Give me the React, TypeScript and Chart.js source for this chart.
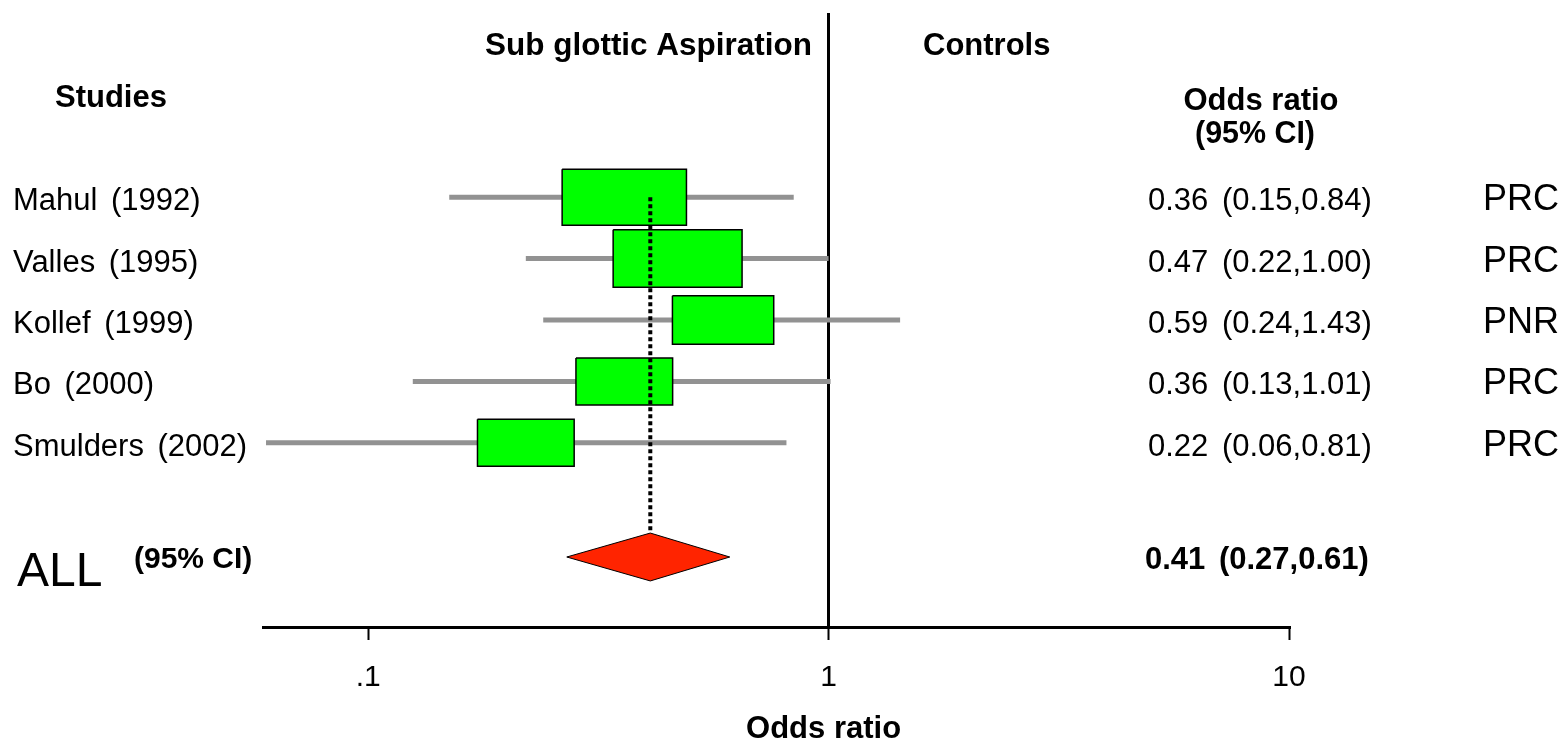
import React, { useEffect, useRef } from 'react';
import { Chart, registerables } from 'chart.js';

Chart.register(...registerables);

// ---- data ----
const studies = ['Mahul (1992)', 'Valles (1995)', 'Kollef (1999)', 'Bo (2000)', 'Smulders (2002)'];
const oddsRatios = [0.36, 0.47, 0.59, 0.36, 0.22];
const ciLower = [0.15, 0.22, 0.24, 0.125, 0.06];
const ciUpper = [0.84, 1.0, 1.43, 1.01, 0.81];
const weights = [27, 28, 22, 21, 21];
const designs = ['PRC', 'PRC', 'PNR', 'PRC', 'PRC'];
const pooledLabel = 'ALL';
const pooledOR = 0.41;
const pooledLower = 0.27;
const pooledUpper = 0.61;
const xTickValues = [0.1, 1, 10];
const xTickLabels = ['.1', '1', '10'];
const xAxisTitle = 'Odds ratio';

const FONT = '"Liberation Sans", Arial, Helvetica, sans-serif';
const fmt = (v: number) => v.toFixed(2);
const pooledRow = studies.length + 0.86;
const diamondHalf = 0.39;

const textPlugin = {
  id: 'forestText',
  afterDraw(chart: any) {
    const ctx = chart.ctx as CanvasRenderingContext2D;
    const ys = chart.scales.y;
    const xs = chart.scales.x;
    ctx.save();
    ctx.fillStyle = '#000';
    ctx.textBaseline = 'alphabetic';
    ctx.textAlign = 'left';
    // headers
    ctx.font = `bold 32px ${FONT}`;
    ctx.fillText('Sub glottic Aspiration', 485, 55, 327);
    ctx.font = `bold 31px ${FONT}`;
    ctx.fillText('Controls', 923, 55, 130);
    ctx.fillText('Studies', 55, 107, 113);
    ctx.textAlign = 'center';
    ctx.fillText('Odds ratio', 1261, 110, 158);
    ctx.fillText('(95% CI)', 1255, 143, 120);
    // x axis title, centred under OR = 1
    ctx.fillText(xAxisTitle, xs.getPixelForValue(1) - 5, 738, 158);
    ctx.textAlign = 'left';

    (ctx as any).wordSpacing = '5px';
    studies.forEach((name, i) => {
      const base = ys.getPixelForValue(i) + 13;
      ctx.font = `31px ${FONT}`;
      ctx.fillText(name, 13, base);
      ctx.fillText(`${fmt(oddsRatios[i])} (${fmt(ciLower[i])},${fmt(ciUpper[i])})`, 1148, base);
      ctx.font = `36px ${FONT}`;
      ctx.fillText(designs[i], 1483, base);
    });
    const pb = ys.getPixelForValue(pooledRow);
    ctx.font = `bold 31px ${FONT}`;
    ctx.fillText(`${fmt(pooledOR)} (${fmt(pooledLower)},${fmt(pooledUpper)})`, 1145, pb + 12);
    (ctx as any).wordSpacing = '0px';
    ctx.font = `48px ${FONT}`;
    ctx.fillText(pooledLabel, 17, pb + 29);
    ctx.font = `bold 30px ${FONT}`;
    ctx.fillText('(95% CI)', 134, pb + 11, 123);
    ctx.restore();
  },
};

function buildDatasets() {
  const ds: any[] = [];
  // CI lines
  studies.forEach((_, i) => {
    ds.push({
      data: [{ x: ciLower[i], y: i }, { x: ciUpper[i], y: i }],
      borderColor: '#929292',
      borderWidth: 5,
      pointRadius: 0,
      borderCapStyle: 'butt',
      fill: false,
      order: 3,
      clip: false,
    });
  });
  // weighted boxes
  studies.forEach((_, i) => {
    const halfLog = weights[i] / 200;
    const lo = oddsRatios[i] * Math.pow(10, -halfLog);
    const hi = oddsRatios[i] * Math.pow(10, halfLog);
    const hh = (0.765 + (weights[i] - 21) * 0.0245) / 2;
    ds.push({
      data: [
        { x: lo, y: i - hh },
        { x: hi, y: i - hh },
        { x: hi, y: i + hh },
        { x: lo, y: i + hh },
        { x: lo, y: i - hh },
      ],
      borderColor: '#000',
      borderWidth: 1.5,
      borderJoinStyle: 'miter',
      backgroundColor: '#00FF00',
      fill: 'shape',
      pointRadius: 0,
      order: 2,
      clip: false,
    });
  });
  // pooled diamond
  ds.push({
    data: [
      { x: pooledLower, y: pooledRow },
      { x: pooledOR, y: pooledRow - diamondHalf },
      { x: pooledUpper, y: pooledRow },
      { x: pooledOR, y: pooledRow + diamondHalf },
      { x: pooledLower, y: pooledRow },
    ],
    borderColor: '#000',
    borderWidth: 1,
    backgroundColor: '#FF2400',
    fill: 'shape',
    pointRadius: 0,
    order: 1,
    clip: false,
  });
  // pooled estimate dotted line
  ds.push({
    data: [{ x: pooledOR, y: 0 }, { x: pooledOR, y: pooledRow - diamondHalf }],
    borderColor: '#000',
    borderWidth: 4,
    borderDash: [4, 3],
    pointRadius: 0,
    fill: false,
    order: 0,
    clip: false,
  });
  return ds;
}

export default function App() {
  const ref = useRef<HTMLCanvasElement | null>(null);
  useEffect(() => {
    document.body.style.margin = '0';
    const canvas = ref.current;
    if (!canvas) return;
    const chart = new Chart(canvas, {
      type: 'line',
      data: { datasets: buildDatasets() },
      options: {
        animation: false,
        responsive: false,
        devicePixelRatio: 1,
        layout: { padding: { left: 263, right: 276, top: 13, bottom: 0 } },
        plugins: { legend: { display: false }, tooltip: { enabled: false } },
        elements: { line: { tension: 0 } },
        scales: {
          x: {
            type: 'logarithmic',
            position: 'bottom',
            min: 0.0591,
            max: 10,
            afterBuildTicks: (scale: any) => {
              scale.ticks = xTickValues.map((v) => ({ value: v }));
            },
            afterFit: (scale: any) => {
              scale.height = 113;
            },
            ticks: {
              autoSkip: false,
              maxRotation: 0,
              padding: 20,
              color: '#000',
              font: { family: FONT, size: 30 },
              callback: (v: any) => {
                const idx = xTickValues.indexOf(Number(v));
                return idx >= 0 ? xTickLabels[idx] : '';
              },
            },
            grid: {
              drawOnChartArea: true,
              drawTicks: true,
              tickLength: 13,
              tickWidth: 2,
              tickColor: '#000',
              lineWidth: 3,
              color: (c: any) => (c.tick && c.tick.value === 1 ? '#000' : 'rgba(0,0,0,0)'),
            },
            border: { display: true, color: '#000', width: 3 },
            title: { display: false },
          },
          y: {
            type: 'linear',
            display: false,
            reverse: true,
            min: -3,
            max: 7,
          },
        },
      },
      plugins: [textPlugin],
    } as any);
    return () => chart.destroy();
  }, []);
  return (
    <canvas
      ref={ref}
      width={1565}
      height={740}
      style={{ display: 'block', width: 1565, height: 740 }}
    />
  );
}
